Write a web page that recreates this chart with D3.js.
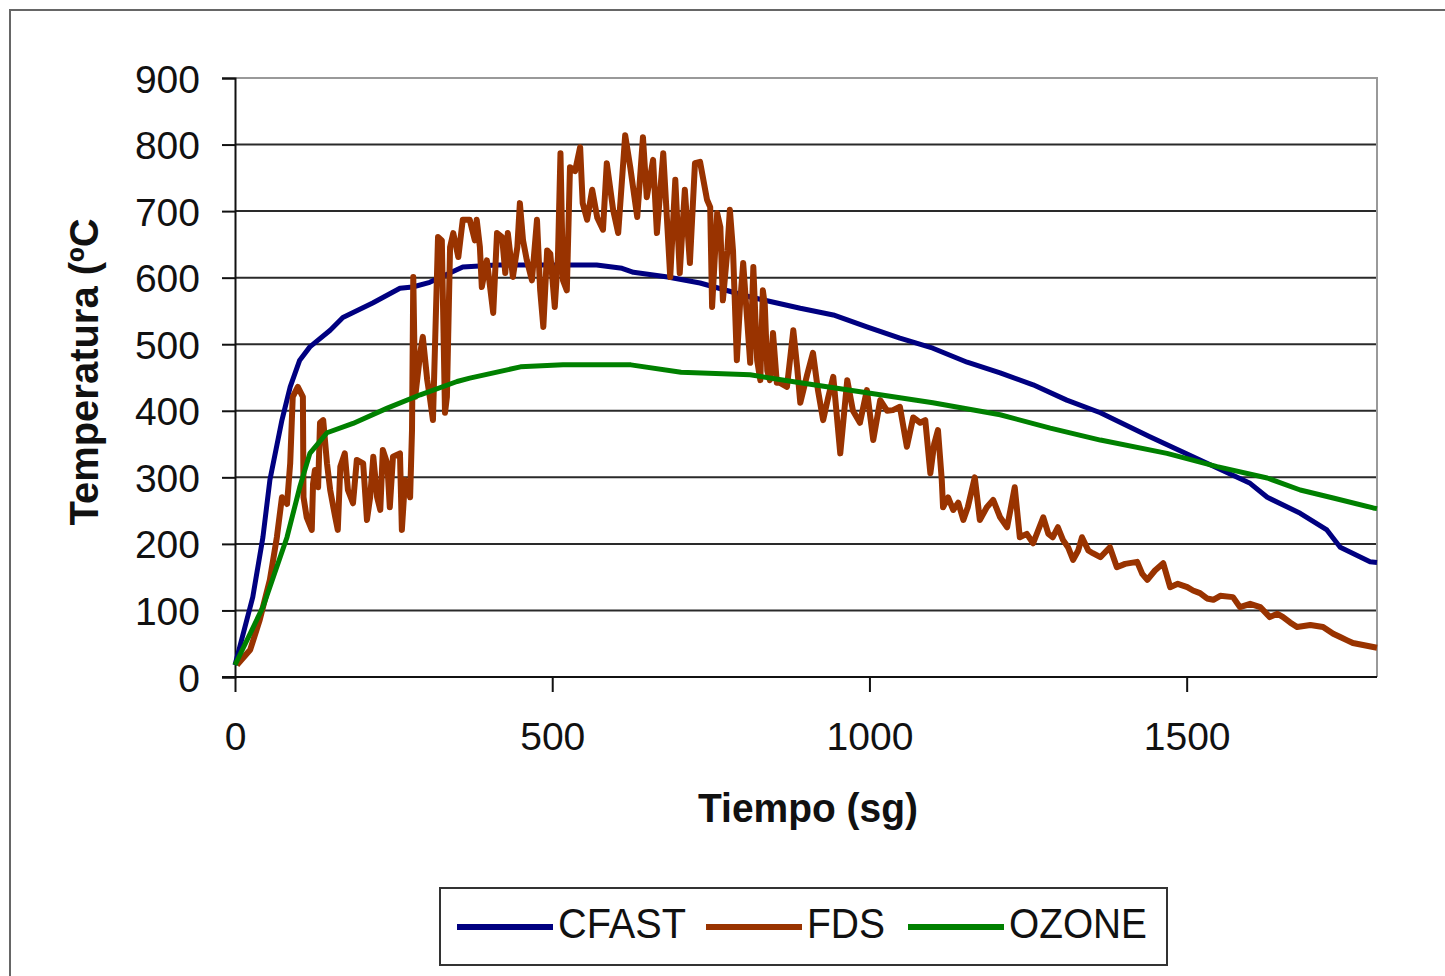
<!DOCTYPE html>
<html>
<head>
<meta charset="utf-8">
<script src="https://cdn.jsdelivr.net/npm/d3@7"></script>
<style>
  body { margin: 0; background: #fff; }
  svg { display: block; font-family: "Liberation Sans", Arial, sans-serif; }
</style>
</head>
<body>
<svg id="chart" width="1445" height="976"></svg>
<script>
// tiempo (s), temperatura (ºC)
var cfast = [[0,18],[28,120],[44,210],[55,296],[74,386],[87,436],[102,476],[118,496],[150,521],[170,540],
  [217,562],[260,584],[280,586],[307,593],[359,616],[412,619],[517,619],[570,619],[610,614],[628,608],
  [682,601],[733,592],[812,571],[891,554],[943,544],[996,526],[1048,509],[1100,494],[1154,473],[1206,457],
  [1258,439],[1311,416],[1364,397],[1442,361],[1521,326],[1600,291],[1627,270],[1679,246],[1721,221],
  [1742,195],[1789,173],[1800,172]];

var fds = [[3,18],[24,41],[39,86],[55,146],[66,210],[74,270],[82,260],[87,321],[91,421],[99,436],[107,421],
  [108,270],[113,240],[121,221],[123,290],[126,311],[131,285],[134,382],[139,386],[145,321],[150,281],[158,240],
  [162,221],[166,316],[173,336],[178,281],[186,261],[192,326],[202,321],[208,236],[213,270],[218,331],[224,270],
  [229,251],[233,341],[240,321],[244,255],[249,331],[260,336],[263,221],[268,296],[276,270],[279,371],[281,601],
  [284,421],[292,487],[296,511],[303,446],[307,421],[312,386],[320,661],[326,656],[331,397],[334,421],[339,646],
  [344,667],[352,631],[359,687],[370,687],[378,656],[381,687],[386,646],[389,586],[397,626],[407,547],[413,667],
  [421,661],[426,607],[430,667],[438,601],[445,646],[449,712],[454,656],[460,626],[468,596],[476,687],[481,581],
  [486,526],[492,641],[497,636],[504,556],[509,631],[513,787],[517,596],[523,581],[528,766],[536,760],[544,796],
  [548,712],[555,687],[563,732],[571,690],[580,672],[586,772],[596,702],[604,667],[615,814],[623,766],[634,691],
  [643,811],[649,721],[659,777],[665,667],[675,787],[686,601],[694,747],[701,607],[709,732],[717,622],[725,772],
  [733,774],[744,717],[749,706],[752,556],[760,697],[765,676],[769,566],[776,640],[780,702],[785,640],[791,476],
  [796,560],[801,622],[807,540],[812,472],[817,616],[823,476],[828,446],[832,581],[835,560],[839,460],[843,446],
  [848,517],[854,442],[859,442],[870,436],[880,521],[886,466],[891,412],[902,455],[911,487],[919,430],[927,386],
  [935,420],[943,451],[954,336],[965,446],[974,400],[985,382],[996,431],[1006,356],[1017,416],[1028,400],
  [1037,401],[1048,406],[1059,346],[1069,390],[1080,382],[1088,386],[1096,306],[1102,350],[1108,371],[1114,296],
  [1116,255],[1124,270],[1132,251],[1140,262],[1148,236],[1155,255],[1166,300],[1174,236],[1185,255],[1195,266],
  [1206,240],[1217,225],[1229,285],[1237,210],[1248,215],[1258,201],[1274,240],[1282,215],[1289,210],[1297,225],
  [1305,206],[1313,195],[1321,176],[1329,190],[1335,210],[1345,190],[1352,186],[1364,180],[1379,195],[1390,165],
  [1403,170],[1422,173],[1430,155],[1438,146],[1450,160],[1463,171],[1474,135],[1486,140],[1501,135],[1510,130],
  [1521,126],[1532,118],[1542,116],[1553,122],[1573,120],[1584,105],[1600,110],[1616,105],[1631,90],[1643,95],
  [1652,90],[1663,82],[1674,75],[1695,78],[1715,75],[1731,65],[1742,60],[1753,55],[1762,51],[1778,48],
  [1794,45],[1800,44]];

var ozone = [[0,18],[44,105],[82,210],[102,285],[118,336],[145,367],[186,381],[240,404],[292,424],[350,444],
  [370,449],[450,466],[517,469],[624,469],[703,458],[812,454],[891,442],[996,427],[1100,412],[1206,394],
  [1285,374],[1364,356],[1469,336],[1548,316],[1627,299],[1679,281],[1731,269],[1794,254],[1800,253]];

var seriesNames = ["CFAST", "FDS", "OZONE"];
var seriesColors = ["#000080", "#993300", "#008000"];
var xTicks = [0, 500, 1000, 1500];
var yTicks = [0, 100, 200, 300, 400, 500, 600, 700, 800, 900];

var margin = { top: 78, left: 235, right: 68, bottom: 299 };
var svg = d3.select("#chart");
var width = +svg.attr("width");
var height = +svg.attr("height");

// outer frame, cut by the page edge on the right and bottom
svg.append("rect")
  .attr("x", 10).attr("y", 10)
  .attr("width", 1470).attr("height", 1000)
  .attr("fill", "none")
  .attr("stroke", "#666")
  .attr("stroke-width", 2);

var x = d3.scaleLinear().domain([0, 1800]).range([margin.left, width - margin.right]);
var y = d3.scaleLinear().domain([0, 900]).range([height - margin.bottom, margin.top]);

// gridlines
svg.append("g")
  .selectAll("line")
  .data(yTicks.filter(d => d > 0 && d < 900))
  .enter()
  .append("line")
  .attr("x1", x(0)).attr("x2", x(1800))
  .attr("y1", d => y(d)).attr("y2", d => y(d))
  .attr("stroke", "#2a2a2a")
  .attr("stroke-width", 2);

// plot frame top / right
svg.append("path")
  .attr("d", `M${x(0)},${y(900)}H${x(1800)}V${y(0)}`)
  .attr("fill", "none")
  .attr("stroke", "#999")
  .attr("stroke-width", 2);

var yAxis = d3.axisLeft(y).tickValues(yTicks).tickSize(13).tickPadding(22);
var xAxis = d3.axisBottom(x).tickValues(xTicks).tickSize(15).tickPadding(30).tickFormat(d3.format("d"));

svg.append("g")
  .attr("transform", `translate(${x(0)},0)`)
  .call(yAxis)
  .call(g => g.selectAll(".domain").attr("stroke", "#111").attr("stroke-width", 2))
  .call(g => g.selectAll(".tick line").attr("stroke", "#111").attr("stroke-width", 2))
  .call(g => g.selectAll("text")
    .attr("fill", "#111")
    .style("font-size", "39px")
    .attr("dy", "0.36em"));

svg.append("g")
  .attr("transform", `translate(0,${y(0)})`)
  .call(xAxis)
  .call(g => g.selectAll(".domain").attr("stroke", "#111").attr("stroke-width", 2).attr("d", `M${x(0) - 13},0H${x(1800)}`))
  .call(g => g.selectAll(".tick line").attr("stroke", "#111").attr("stroke-width", 2))
  .call(g => g.selectAll("text")
    .attr("fill", "#111")
    .style("font-size", "39px"));

// axis titles
svg.append("text")
  .attr("transform", `translate(98,372) rotate(-90)`)
  .attr("text-anchor", "middle")
  .attr("fill", "#111")
  .style("font-size", "40px")
  .style("font-weight", "bold")
  .attr("textLength", 307)
  .attr("lengthAdjust", "spacingAndGlyphs")
  .text("Temperatura (ºC");

svg.append("text")
  .attr("x", 808)
  .attr("y", 822)
  .attr("text-anchor", "middle")
  .attr("fill", "#111")
  .style("font-size", "40px")
  .style("font-weight", "bold")
  .attr("textLength", 220)
  .attr("lengthAdjust", "spacingAndGlyphs")
  .text("Tiempo (sg)");

var line = d3.line()
  .x(d => x(d[0]))
  .y(d => y(d[1]));

// series order like the original: CFAST, FDS over it, OZONE on top
var seriesData = [cfast, fds, ozone];
var strokeW = [5, 6, 5];
seriesData.forEach(function(data, i) {
  svg.append("path")
    .datum(data)
    .attr("fill", "none")
    .attr("stroke", seriesColors[i])
    .attr("stroke-width", strokeW[i])
    .attr("stroke-linejoin", "round")
    .attr("d", line);
});

// legend
var legend = svg.append("g");
legend.append("rect")
  .attr("x", 440).attr("y", 888)
  .attr("width", 727).attr("height", 77)
  .attr("fill", "#fff")
  .attr("stroke", "#333")
  .attr("stroke-width", 2);

var legX = [457, 706, 908];
var legTextW = [128, 78, 138];
seriesNames.forEach(function(name, i) {
  legend.append("line")
    .attr("x1", legX[i]).attr("x2", legX[i] + 96)
    .attr("y1", 927).attr("y2", 927)
    .attr("stroke", seriesColors[i])
    .attr("stroke-width", 6);
  legend.append("text")
    .attr("x", legX[i] + 101)
    .attr("y", 938)
    .attr("fill", "#111")
    .style("font-size", "43px")
    .attr("textLength", legTextW[i])
    .attr("lengthAdjust", "spacingAndGlyphs")
    .text(name);
});
</script>
</body>
</html>
